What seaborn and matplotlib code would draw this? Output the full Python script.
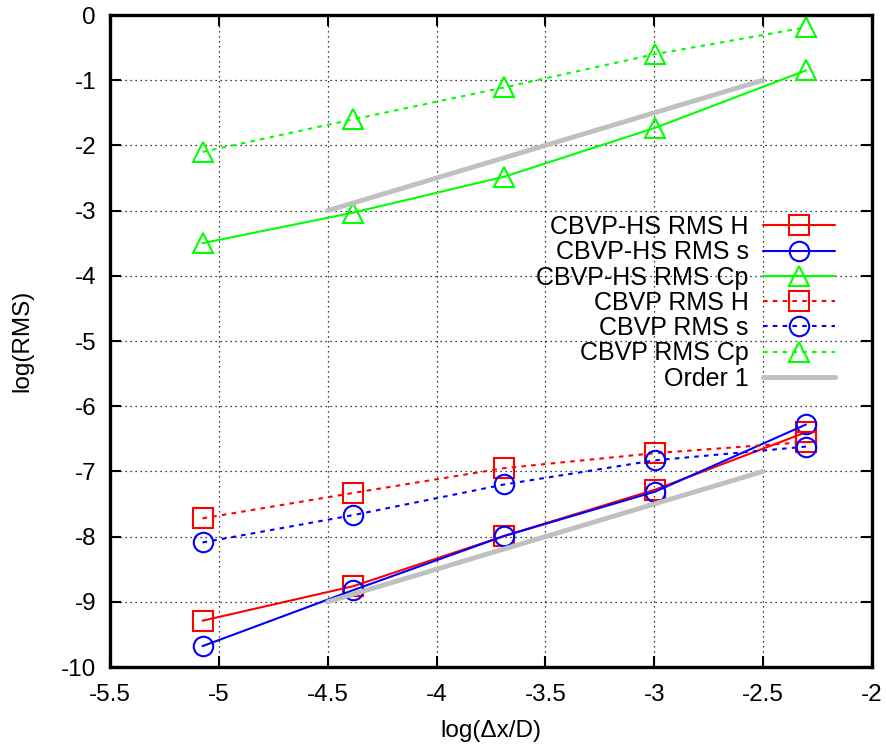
import matplotlib
matplotlib.use("Agg")
import matplotlib.pyplot as plt
import seaborn as sns
import numpy as np

# ---- data ----
log_dx = [-5.075, -4.382, -3.689, -2.996, -2.303]
hs_rms_h = [-9.29, -8.76, -7.99, -7.28, -6.40]
hs_rms_s = [-9.68, -8.82, -7.99, -7.31, -6.28]
hs_rms_cp = [-3.50, -3.03, -2.48, -1.73, -0.85]
cbvp_rms_h = [-7.72, -7.33, -6.95, -6.72, -6.55]
cbvp_rms_s = [-8.09, -7.67, -7.20, -6.83, -6.62]
cbvp_rms_cp = [-2.10, -1.60, -1.11, -0.60, -0.19]
order_x = [-4.5, -2.5]
order_upper = [-3.0, -1.0]
order_lower = [-9.0, -7.0]

x_ticks = [-5.5, -5, -4.5, -4, -3.5, -3, -2.5, -2]
x_tick_labels = ["-5.5", "-5", "-4.5", "-4", "-3.5", "-3", "-2.5", "-2"]
y_ticks = [0, -1, -2, -3, -4, -5, -6, -7, -8, -9, -10]
y_tick_labels = ["0", "-1", "-2", "-3", "-4", "-5", "-6", "-7", "-8", "-9", "-10"]

sns.set_theme(style="white")
plt.rcParams['font.family'] = ['Liberation Sans', 'DejaVu Sans']
plt.rcParams['text.color'] = 'black'
plt.rcParams['axes.labelcolor'] = 'black'

fig = plt.figure(figsize=(8.86, 7.49), dpi=100)
ax = fig.add_axes([110/886, 1 - 667/749, (872-110)/886, (667-15)/749])

RED, BLUE, GREEN = "#ff0000", "#0000ff", "#00ff00"
lw = 1.5
ms = 14
mew = 1.5
dash = (0, (2.2, 2.5))

series = [
    ("CBVP-HS RMS H", hs_rms_h, RED, "s", "-"),
    ("CBVP-HS RMS s", hs_rms_s, BLUE, "o", "-"),
    ("CBVP-HS RMS Cp", hs_rms_cp, GREEN, "^", "-"),
    ("CBVP RMS H", cbvp_rms_h, RED, "s", dash),
    ("CBVP RMS s", cbvp_rms_s, BLUE, "o", dash),
    ("CBVP RMS Cp", cbvp_rms_cp, GREEN, "^", dash),
]

for label, vals, col, mk, ls in series:
    sns.lineplot(x=log_dx, y=vals, ax=ax, color=col, linestyle=ls, linewidth=lw,
                 marker=mk, markersize=ms if mk != "^" else ms + 1,
                 markerfacecolor="none", markeredgecolor=col,
                 markeredgewidth=mew, label=label, sort=False)

sns.lineplot(x=order_x, y=order_upper, ax=ax, color="#c0c0c0", linewidth=3.5,
             label="Order 1", sort=False)
sns.lineplot(x=order_x, y=order_lower, ax=ax, color="#c0c0c0", linewidth=3.5,
             label="_nolegend_", sort=False)

ax.set_xlim(-5.5, -2)
ax.set_ylim(-10, 0)
ax.set_xticks(x_ticks)
ax.set_xticklabels(x_tick_labels)
ax.set_yticks(y_ticks)
ax.set_yticklabels(y_tick_labels)

ax.grid(True, color="black", linestyle=(0, (1, 3)), linewidth=0.9)
for s in ax.spines.values():
    s.set_linewidth(2.4)
    s.set_color("black")
    s.set_visible(True)

ax.tick_params(axis="both", which="major", direction="in", length=8, width=1.5,
               top=True, right=True, bottom=True, left=True, labelsize=17.5,
               colors="black")
ax.tick_params(axis="x", pad=12)
ax.tick_params(axis="y", pad=10)

ax.set_xlabel("log(\u0394x/D)", fontsize=17.5, labelpad=10, color="black")
ax.set_ylabel("log(RMS)", fontsize=17.5, labelpad=20, color="black")

leg = ax.legend(loc="upper right", bbox_to_anchor=((835-110)/762, (667-215)/652),
                frameon=False, markerfirst=False, fontsize=18, handlelength=2.9,
                handletextpad=0.55, labelspacing=0.05, borderpad=0, borderaxespad=0)
leg._legend_box.align = "right"
for t in leg.get_texts():
    t.set_color("black")

fig.savefig("out.png", dpi=100)
